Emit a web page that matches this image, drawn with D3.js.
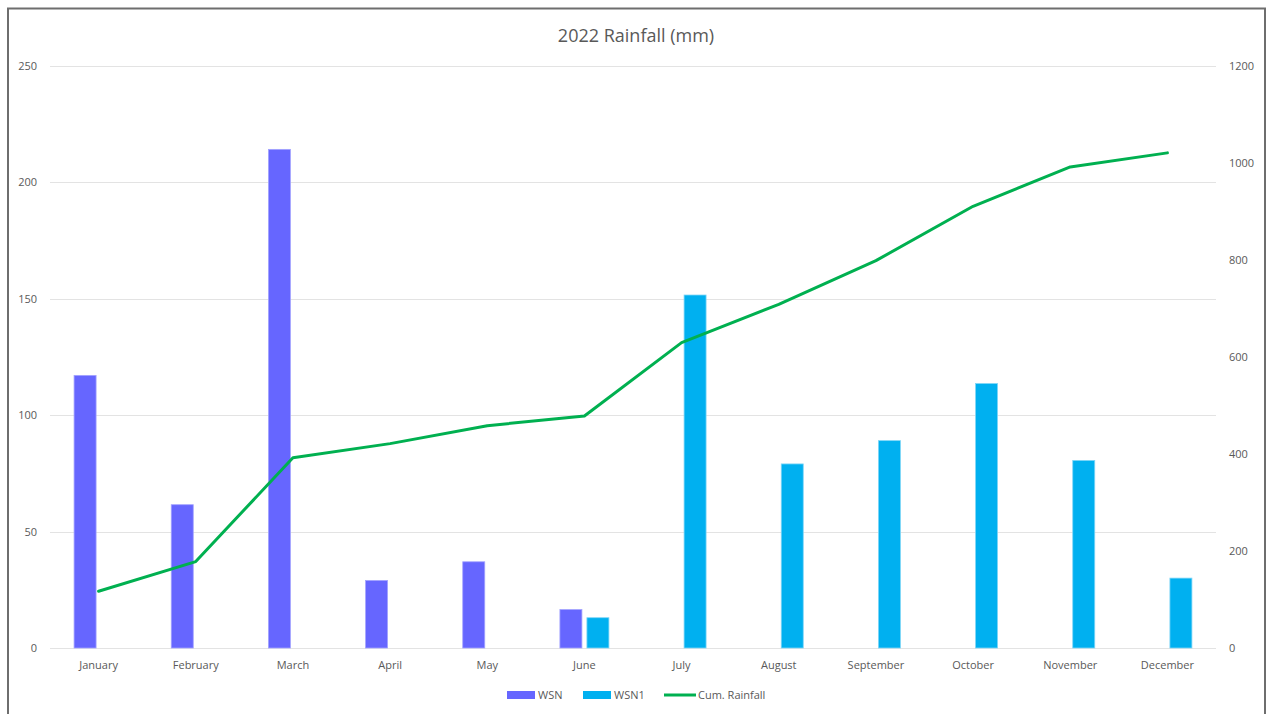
<!DOCTYPE html>
<html>
<head>
<meta charset="utf-8">
<script src="https://cdn.jsdelivr.net/npm/d3@7"></script>
<style>
    body { margin: 0; background: #fff; }
    text { font-family: "Open Sans", "Noto Sans", sans-serif; fill: #595959; }
</style>
</head>
<body>
<div id="chart"></div>
<script>
// Data
const months = ['January', 'February', 'March', 'April', 'May', 'June',
    'July', 'August', 'September', 'October', 'November', 'December'];
const wsn = [117, 61.5, 214, 29, 37, 16.5, null, null, null, null, null, null];
const wsn1 = [null, null, null, null, null, 13, 151.5, 79, 89, 113.5, 80.5, 30];
const cumRainfall = [117, 178, 392, 421, 458, 478, 629, 708, 798, 910, 991, 1020];
const leftTicks = [0, 50, 100, 150, 200, 250];
const rightTicks = [0, 200, 400, 600, 800, 1000, 1200];

const width = 1269;
const height = 714;

const svg = d3.select('#chart')
    .append('svg')
    .attr('width', width)
    .attr('height', height);

svg.append('rect')
    .attr('width', width)
    .attr('height', height)
    .attr('fill', '#fff');

// frame round the chart
svg.append('rect')
    .attr('x', 8)
    .attr('y', 8.5)
    .attr('width', 1257)
    .attr('height', 720)
    .attr('fill', 'none')
    .attr('stroke', '#6e6e6e')
    .attr('stroke-width', 2);

// scales
const x = d3.scaleBand()
    .domain(months)
    .range([50, 1216]);

const xSub = d3.scaleBand()
    .domain(['WSN', 'WSN1'])
    .range([-24.5, 24.5])
    .paddingInner(0.185);

const yLeft = d3.scaleLinear()
    .domain([0, 250])
    .range([648, 65.5]);

const yRight = d3.scaleLinear()
    .domain([0, 1200])
    .range([648, 65.5]);

// gridlines
svg.append('g')
    .selectAll('line')
    .data(leftTicks)
    .enter()
    .append('line')
    .attr('x1', 50)
    .attr('x2', 1216)
    .attr('y1', d => Math.round(yLeft(d)) + 0.5)
    .attr('y2', d => Math.round(yLeft(d)) + 0.5)
    .attr('stroke', '#e3e3e3')
    .attr('stroke-width', 1);

// style the tick texts of an axis group
function styleAxis(g) {
    g.select('.domain').remove();
    g.selectAll('text')
        .attr('font-size', '11px')
        .style('font-family', '"Open Sans", sans-serif')
        .style('fill', '#595959');
}

// left axis
const yAxisLeft = d3.axisLeft(yLeft).tickValues(leftTicks).tickSize(0).tickPadding(0);
svg.append('g')
    .attr('transform', 'translate(37, 0)')
    .call(yAxisLeft)
    .call(styleAxis);

// right axis
const yAxisRight = d3.axisRight(yRight)
    .tickValues(rightTicks)
    .tickFormat(d3.format('d'))
    .tickSize(0)
    .tickPadding(0);
svg.append('g')
    .attr('transform', 'translate(1229, 0)')
    .call(yAxisRight)
    .call(styleAxis);

// x axis (month labels)
const xAxis = d3.axisBottom(x).tickSize(0).tickPadding(0);
svg.append('g')
    .attr('transform', 'translate(0, 661)')
    .call(xAxis)
    .call(styleAxis);

// bars
const barRows = [];
months.forEach((m, i) => {
    if (wsn[i] != null) barRows.push({ month: m, key: 'WSN', value: wsn[i] });
    if (wsn1[i] != null) barRows.push({ month: m, key: 'WSN1', value: wsn1[i] });
});

const colors = { WSN: '#6666ff', WSN1: '#00b0f0' };
const outlines = { WSN: '#a3a3ff', WSN1: '#7fd6f7' };

svg.append('g')
    .selectAll('rect')
    .data(barRows)
    .enter()
    .append('rect')
    .attr('x', d => x(d.month) + x.bandwidth() / 2 + xSub(d.key))
    .attr('y', d => yLeft(d.value))
    .attr('width', xSub.bandwidth())
    .attr('height', d => yLeft(0) - yLeft(d.value))
    .attr('fill', d => colors[d.key])
    .attr('stroke', d => outlines[d.key])
    .attr('stroke-width', 0.8);

// cumulative line
const line = d3.line()
    .x((d, i) => x(months[i]) + x.bandwidth() / 2)
    .y(d => yRight(d));

svg.append('path')
    .datum(cumRainfall)
    .attr('d', line)
    .attr('fill', 'none')
    .attr('stroke', '#00b050')
    .attr('stroke-width', 3)
    .attr('stroke-linejoin', 'round')
    .attr('stroke-linecap', 'round');

// title
svg.append('text')
    .attr('x', 636)
    .attr('y', 42)
    .attr('text-anchor', 'middle')
    .attr('font-size', '18px')
    .text('2022 Rainfall (mm)');

// legend
const legendItems = [
    { name: 'WSN', type: 'bar', color: colors.WSN, x: 507 },
    { name: 'WSN1', type: 'bar', color: colors.WSN1, x: 583 },
    { name: 'Cum. Rainfall', type: 'line', color: '#00b050', x: 664 }
];

const legend = svg.selectAll('.legend')
    .data(legendItems)
    .enter()
    .append('g')
    .attr('class', 'legend')
    .attr('transform', d => `translate(${d.x}, 695)`);

legend.filter(d => d.type === 'bar')
    .append('rect')
    .attr('x', 0)
    .attr('y', -4)
    .attr('width', 28)
    .attr('height', 8)
    .attr('fill', d => d.color);

legend.filter(d => d.type === 'line')
    .append('line')
    .attr('x1', 0)
    .attr('x2', 32)
    .attr('y1', 0)
    .attr('y2', 0)
    .attr('stroke', d => d.color)
    .attr('stroke-width', 3);

legend.append('text')
    .attr('x', d => d.type === 'line' ? 34 : 31)
    .attr('y', 4)
    .attr('font-size', '11px')
    .text(d => d.name);
</script>
</body>
</html>
